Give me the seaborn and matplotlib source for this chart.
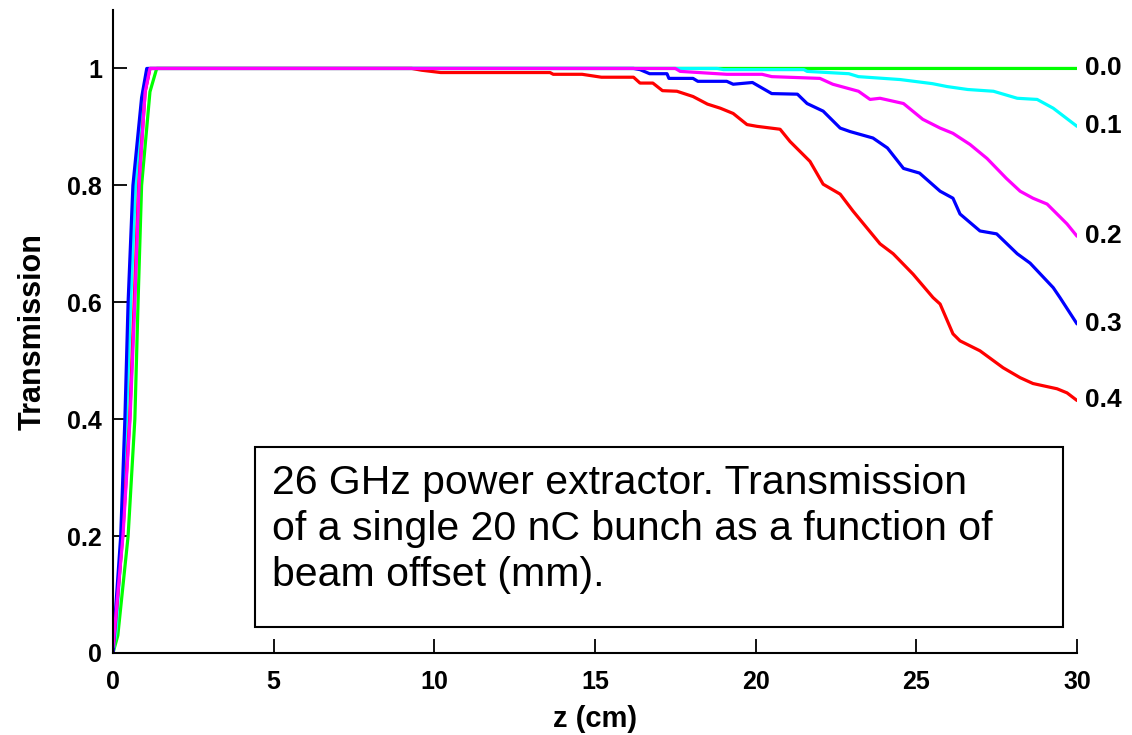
import numpy as np
import pandas as pd
import matplotlib
matplotlib.use("Agg")
import matplotlib.pyplot as plt
import seaborn as sns
from matplotlib.patches import Rectangle

sns.set_theme(style="white")
plt.rcParams['font.family'] = ['Liberation Sans', 'DejaVu Sans']
plt.rcParams['text.color'] = 'black'
plt.rcParams['axes.labelcolor'] = 'black'
plt.rcParams['xtick.color'] = 'black'
plt.rcParams['ytick.color'] = 'black'

# ---- data ----
offsets = ["0.0", "0.1", "0.2", "0.3", "0.4"]

z_00 = [0, 0.15, 0.47, 0.68, 0.78, 0.89, 1.15, 1.36, 30.0]
t_00 = [0, 0.03, 0.20, 0.40, 0.60, 0.80, 0.96, 1.0, 1.0]

z_01 = [0, 0.1, 0.28, 0.42, 0.55, 0.70, 0.95, 1.1, 18.8, 19.0, 21.5, 21.6, 22.9, 23.2, 24.5,
        25.5, 25.96, 26.6, 27.4, 28.14, 28.76, 29.26, 30.0]
t_01 = [0, 0.04, 0.20, 0.40, 0.60, 0.80, 0.96, 1.0, 1.0, 0.998, 0.998, 0.995, 0.991, 0.986, 0.981,
        0.974, 0.969, 0.964, 0.961, 0.949, 0.947, 0.932, 0.901]

z_02 = [0, 0.31, 0.53, 0.68, 0.81, 1.0, 1.15, 17.5, 17.65, 19.1, 20.2, 20.5, 22.0, 22.4, 23.2,
        23.56, 23.87, 24.6, 25.2, 25.74, 26.14, 26.67, 27.2, 27.8, 28.23, 28.63, 29.07, 29.38,
        29.69, 30.0]
t_02 = [0.01, 0.20, 0.40, 0.60, 0.80, 0.96, 1.0, 1.0, 0.995, 0.99, 0.99, 0.986, 0.983, 0.973, 0.961,
        0.947, 0.949, 0.940, 0.913, 0.898, 0.889, 0.870, 0.846, 0.812, 0.790, 0.778, 0.768, 0.751,
        0.734, 0.713]

z_03 = [0, 0.05, 0.24, 0.37, 0.47, 0.62, 0.89, 1.05, 16.2, 16.4, 16.7, 17.24, 17.3, 18.05, 18.2,
        19.1, 19.3, 19.9, 20.5, 21.3, 21.6, 22.1, 22.63, 22.94, 23.65, 24.1, 24.6, 25.1, 25.74,
        26.14, 26.36, 26.98, 27.5, 28.14, 28.54, 29.26, 29.47, 30.0]
t_03 = [0, 0.05, 0.20, 0.40, 0.60, 0.80, 0.95, 1.0, 1.0, 0.998, 0.991, 0.991, 0.983, 0.983, 0.978,
        0.978, 0.973, 0.976, 0.957, 0.956, 0.940, 0.927, 0.898, 0.892, 0.881, 0.864, 0.829, 0.821,
        0.790, 0.778, 0.751, 0.722, 0.717, 0.683, 0.667, 0.625, 0.608, 0.563]

z_04 = [0, 0.30, 0.52, 0.66, 0.80, 1.0, 1.15, 9.3, 9.6, 10.2, 13.6, 13.7, 14.6, 15.2, 16.2, 16.4,
        16.8, 17.1, 17.55, 18.05, 18.5, 18.9, 19.3, 19.73, 20.04, 20.76, 21.07, 21.69, 22.10, 22.63,
        23.03, 23.87, 24.28, 24.9, 25.52, 25.74, 26.14, 26.36, 26.98, 27.7, 28.23, 28.63, 29.38,
        29.69, 30.0]
t_04 = [0, 0.20, 0.40, 0.60, 0.80, 0.96, 1.0, 1.0, 0.997, 0.993, 0.993, 0.99, 0.99, 0.985, 0.985, 0.975,
        0.975, 0.962, 0.961, 0.952, 0.939, 0.932, 0.923, 0.904, 0.901, 0.896, 0.875, 0.841, 0.802, 0.785,
        0.756, 0.700, 0.683, 0.648, 0.608, 0.597, 0.546, 0.534, 0.517, 0.488, 0.471, 0.461, 0.452,
        0.445, 0.432]

x_ticks = [0, 5, 10, 15, 20, 25, 30]
y_ticks = [0, 0.2, 0.4, 0.6, 0.8, 1.0]
y_ticklabels = ["0", "0.2", "0.4", "0.6", "0.8", "1"]
note = ("26 GHz power extractor. Transmission\n"
        "of a single 20 nC bunch as a function of\n"
        "beam offset (mm).")

series = {
    "0.0": (z_00, t_00, "#00ff00"),
    "0.1": (z_01, t_01, "#00ffff"),
    "0.4": (z_04, t_04, "#ff0000"),
    "0.3": (z_03, t_03, "#0000ff"),
    "0.2": (z_02, t_02, "#ff00ff"),
}

fig = plt.figure(figsize=(11.32, 7.35), dpi=100)
ax = fig.add_axes([113 / 1132, 1 - 653 / 735, (1077 - 113) / 1132, (653 - 10) / 735])

for name, (zz, tt, col) in series.items():
    df = pd.DataFrame({"z": zz, "T": tt})
    sns.lineplot(data=df, x="z", y="T", ax=ax, color=col, linewidth=2.3,
                 sort=False, estimator=None, legend=False)

for name, (zz, tt, col) in series.items():
    ax.text(30.25, tt[-1], name, fontsize=19, fontweight="bold", va="center", ha="left",
            clip_on=False, color="black")

ax.set_xlim(0, 30)
ax.set_ylim(0, 1.1)
ax.set_xticks(x_ticks)
ax.set_xticklabels([str(v) for v in x_ticks])
ax.set_yticks(y_ticks)
ax.set_yticklabels(y_ticklabels)
ax.tick_params(direction="in", length=10, width=1.3, labelsize=18, colors="black")
ax.tick_params(axis="x", pad=12)
ax.tick_params(axis="y", pad=8)
for lab in ax.get_xticklabels() + ax.get_yticklabels():
    lab.set_fontweight("bold")
ax.tick_params(axis="both", which="both", left=True, bottom=True)
sns.despine(ax=ax)
for s in ("left", "bottom"):
    ax.spines[s].set_color("black")
    ax.spines[s].set_linewidth(1.5)
ax.set_xlabel("z (cm)", fontsize=21, fontweight="bold", labelpad=8, color="black")
ax.set_ylabel("Transmission", fontsize=22, fontweight="bold", labelpad=14, color="black")

ax.add_patch(Rectangle((4.42, 0.044), 29.57 - 4.42, 0.352 - 0.044, fill=False, edgecolor="black",
                       linewidth=1.5, zorder=5))
ax.text(4.95, 0.323, note, fontsize=29.5, va="top", ha="left", linespacing=1.27,
        color="black", zorder=6)

fig.savefig("out.png", dpi=100)
